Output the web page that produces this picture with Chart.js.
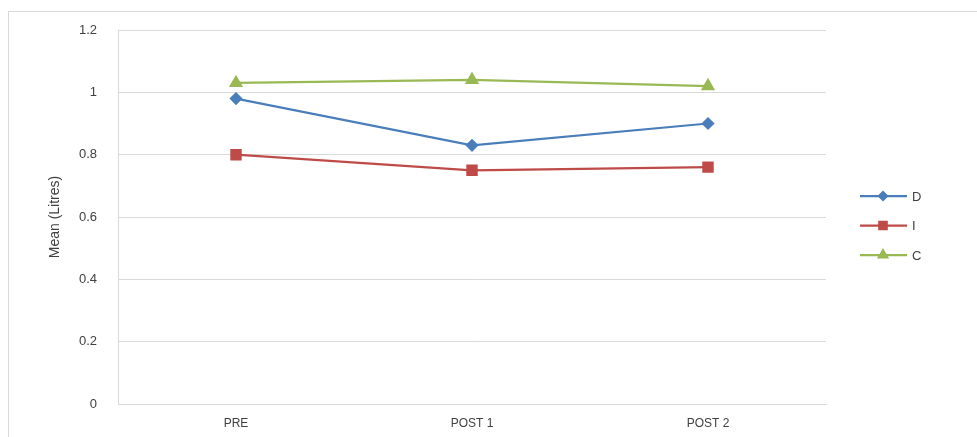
<!DOCTYPE html>
<html>
<head>
<meta charset="utf-8">
<script src="https://cdn.jsdelivr.net/npm/chart.js@4/dist/chart.umd.min.js"></script>
<style>
  body { margin: 0; background: #fff; }
  #wrap { position: relative; width: 977px; height: 437px; }
  #frame { position: absolute; left: 8px; top: 11px; width: 980px; height: 430px; border: 1px solid #d9d9d9; }
  canvas { position: absolute; left: 0; top: 0; }
</style>
</head>
<body>
<div id="wrap">
  <div id="frame"></div>
  <canvas id="chart" width="977" height="437"></canvas>
</div>
<script>
const categories = ["PRE", "POST 1", "POST 2"];
const seriesNames = ["D", "I", "C"];
const dValues = [0.98, 0.83, 0.90];
const iValues = [0.80, 0.75, 0.76];
const cValues = [1.03, 1.04, 1.02];
const yTicks = [0, 0.2, 0.4, 0.6, 0.8, 1, 1.2];

const colors = ["#4a7ebb", "#be4b48", "#98b954"];
const markers = ["rectRot", "rect", "triangle"];
const radii = [5, 6.5, 6];

function makeSet(i, values) {
  return {
    label: seriesNames[i],
    data: values,
    borderColor: colors[i],
    backgroundColor: colors[i],
    pointStyle: markers[i],
    pointRadius: radii[i],
    pointHoverRadius: radii[i],
    borderWidth: 2.25,
    tension: 0
  };
}

// legend with line + marker like the original
const sideLegend = {
  id: "sideLegend",
  afterDraw(chart) {
    const ctx = chart.ctx;
    chart.data.datasets.forEach((ds, i) => {
      const y = 196 + i * 29.5;
      ctx.save();
      ctx.strokeStyle = ds.borderColor;
      ctx.lineWidth = 2.25;
      ctx.beginPath();
      ctx.moveTo(860, y);
      ctx.lineTo(907, y);
      ctx.stroke();
      Chart.helpers.drawPoint(ctx, {
        pointStyle: ds.pointStyle,
        radius: ds.pointRadius * 0.8,
        rotation: 0,
        borderWidth: 1
      }, 883, y);
      ctx.fillStyle = ds.borderColor;
      ctx.fill();
      ctx.fillStyle = "#404040";
      ctx.font = "13px 'Liberation Sans', Arial, sans-serif";
      ctx.textBaseline = "middle";
      ctx.fillText(ds.label, 912, y + 1);
      ctx.restore();
    });
  }
};

new Chart(document.getElementById("chart"), {
  type: "line",
  data: {
    labels: categories,
    datasets: [makeSet(0, dValues), makeSet(1, iValues), makeSet(2, cValues)]
  },
  options: {
    responsive: false,
    animation: false,
    layout: { padding: { top: 30, right: 151, bottom: 0, left: 43 } },
    plugins: {
      legend: { display: false },
      tooltip: { enabled: false }
    },
    scales: {
      x: {
        offset: true,
        afterFit(scale) { scale.height = 33; },
        grid: { display: false, drawTicks: false },
        border: { display: true, color: "#d9d9d9", width: 1 },
        ticks: {
          color: "#404040",
          padding: 12,
          font: { family: "'Liberation Sans', Arial, sans-serif", size: 12 }
        }
      },
      y: {
        min: 0,
        max: 1.2,
        afterBuildTicks(scale) {
          scale.ticks = yTicks.map(v => ({ value: v }));
        },
        afterFit(scale) { scale.width = 75; },
        grid: { color: "#d9d9d9", drawTicks: false },
        border: { display: true, color: "#d9d9d9", width: 1 },
        ticks: {
          color: "#404040",
          padding: 21,
          font: { family: "'Liberation Sans', Arial, sans-serif", size: 13 },
          callback: v => String(v)
        },
        title: {
          display: true,
          text: "Mean (Litres)",
          color: "#404040",
          font: { family: "'Liberation Sans', Arial, sans-serif", size: 14 }
        }
      }
    }
  },
  plugins: [sideLegend]
});
</script>
</body>
</html>
